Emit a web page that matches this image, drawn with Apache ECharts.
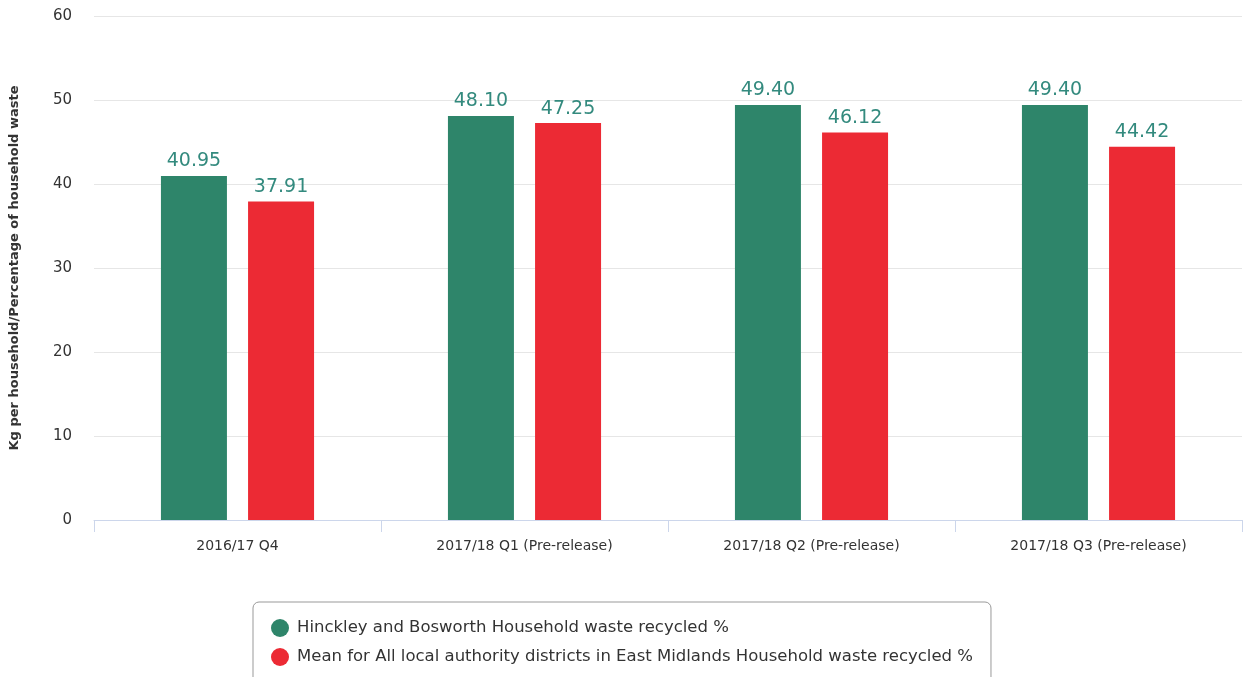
<!DOCTYPE html>
<html>
<head>
<meta charset="utf-8">
<script src="https://cdn.jsdelivr.net/npm/echarts@6/dist/echarts.min.js"></script>
<style>
  html, body { margin: 0; padding: 0; background: #fff; }
  #chart { width: 1246px; height: 677px; }
</style>
</head>
<body>
<div id="chart"></div>
<script>
// Quarterly household waste recycled (%)
var categories = ['2016/17 Q4', '2017/18 Q1 (Pre-release)', '2017/18 Q2 (Pre-release)', '2017/18 Q3 (Pre-release)'];
var hinckleyValues = [40.95, 48.10, 49.40, 49.40];
var eastMidlandsValues = [37.91, 47.25, 46.12, 44.42];
var seriesNames = [
  'Hinckley and Bosworth Household waste recycled %',
  'Mean for All local authority districts in East Midlands Household waste recycled %'
];
var yTicks = { min: 0, max: 60, interval: 10 };
var yAxisTitle = 'Kg per household/Percentage of household waste';

var chart = echarts.init(document.getElementById('chart'), null, { renderer: 'canvas' });

var valueLabel = {
  show: true,
  position: 'top',
  distance: 5,
  color: '#338a7e',
  fontFamily: 'DejaVu Sans',
  fontSize: 19,
  formatter: function (p) { return p.value.toFixed(2); }
};

chart.setOption({
  animation: false,
  backgroundColor: '#ffffff',
  grid: { left: 92, right: 4, top: 16, bottom: 157, containLabel: false },
  legend: {
    orient: 'vertical',
    left: 253,
    top: 602,
    height: 120,
    padding: [17, 18, 17, 18],
    itemGap: 11,
    itemWidth: 18,
    itemHeight: 18,
    icon: 'circle',
    borderColor: '#999999',
    borderWidth: 1,
    borderRadius: 6,
    textStyle: { fontFamily: 'DejaVu Sans', fontSize: 16.5, color: '#333333', padding: [0, 0, 0, 3] },
    data: seriesNames
  },
  xAxis: {
    type: 'category',
    data: categories,
    axisLine: { lineStyle: { color: '#ccd6eb' } },
    axisTick: { show: true, length: 12, lineStyle: { color: '#ccd6eb' } },
    axisLabel: { color: '#333333', fontFamily: 'DejaVu Sans', fontSize: 14, margin: 19 }
  },
  yAxis: {
    type: 'value',
    min: yTicks.min,
    max: yTicks.max,
    interval: yTicks.interval,
    name: yAxisTitle,
    nameLocation: 'middle',
    nameGap: 73,
    nameTextStyle: { color: '#333333', fontFamily: 'DejaVu Sans', fontSize: 13, fontWeight: 'bold' },
    axisLine: { show: false },
    axisTick: { show: false },
    axisLabel: { color: '#333333', fontFamily: 'DejaVu Sans', fontSize: 15, margin: 22 },
    splitLine: { lineStyle: { color: '#e6e6e6' } }
  },
  series: [
    {
      name: seriesNames[0],
      type: 'bar',
      data: hinckleyValues,
      barWidth: 66,
      barGap: '32%',
      itemStyle: { color: '#2e856a' },
      label: valueLabel
    },
    {
      name: seriesNames[1],
      type: 'bar',
      data: eastMidlandsValues,
      barWidth: 66,
      barGap: '32%',
      itemStyle: { color: '#ec2a34' },
      label: valueLabel
    }
  ]
});
</script>
</body>
</html>
